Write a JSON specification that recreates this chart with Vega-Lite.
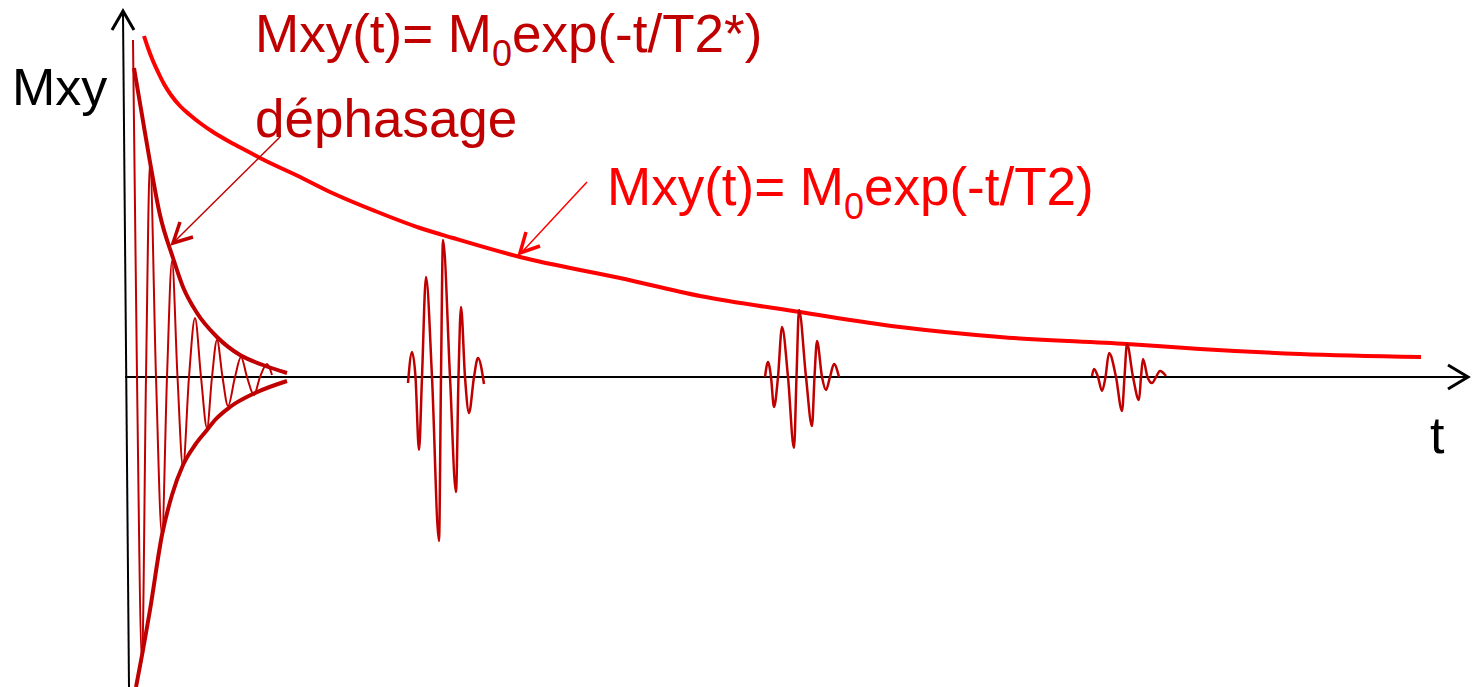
{
  "$schema": "https://vega.github.io/schema/vega-lite/v6.json",
  "width": 1476,
  "height": 687,
  "autosize": {"type": "none"},
  "padding": 0,
  "background": "white",
  "config": {"view": {"stroke": null}},
  "datasets": {
    "curves": [
      {"id": "axisH", "o": 0, "t": -3, "m": 0},
      {"id": "axisH", "o": 1, "t": 1338, "m": 0},
      {"id": "axisV", "o": 0, "t": -5, "m": 363},
      {"id": "axisV", "o": 1, "t": 1, "m": -310},
      {"id": "arrH", "o": 0, "t": 1320, "m": 12},
      {"id": "arrH", "o": 1, "t": 1340, "m": 0},
      {"id": "arrH", "o": 2, "t": 1320, "m": -12},
      {"id": "arrV", "o": 0, "t": -16, "m": 347},
      {"id": "arrV", "o": 1, "t": -5, "m": 366},
      {"id": "arrV", "o": 2, "t": 6, "m": 347},

      {"id": "T2", "o": 0, "t": 16, "m": 341},
      {"id": "T2", "o": 1, "t": 20, "m": 329},
      {"id": "T2", "o": 2, "t": 25, "m": 316},
      {"id": "T2", "o": 3, "t": 30, "m": 305},
      {"id": "T2", "o": 4, "t": 36, "m": 293},
      {"id": "T2", "o": 5, "t": 43, "m": 282},
      {"id": "T2", "o": 6, "t": 52, "m": 271},
      {"id": "T2", "o": 7, "t": 62, "m": 262},
      {"id": "T2", "o": 8, "t": 72, "m": 254},
      {"id": "T2", "o": 9, "t": 85, "m": 245},
      {"id": "T2", "o": 10, "t": 102, "m": 235},
      {"id": "T2", "o": 11, "t": 119, "m": 226},
      {"id": "T2", "o": 12, "t": 136, "m": 217},
      {"id": "T2", "o": 13, "t": 169, "m": 201.5},
      {"id": "T2", "o": 14, "t": 202, "m": 185},
      {"id": "T2", "o": 15, "t": 247, "m": 166},
      {"id": "T2", "o": 16, "t": 292, "m": 149},
      {"id": "T2", "o": 17, "t": 325, "m": 139},
      {"id": "T2", "o": 18, "t": 392, "m": 120},
      {"id": "T2", "o": 19, "t": 492, "m": 99},
      {"id": "T2", "o": 20, "t": 572, "m": 81},
      {"id": "T2", "o": 21, "t": 672, "m": 65},
      {"id": "T2", "o": 22, "t": 772, "m": 50},
      {"id": "T2", "o": 23, "t": 872, "m": 40},
      {"id": "T2", "o": 24, "t": 999, "m": 33},
      {"id": "T2", "o": 25, "t": 1072, "m": 28},
      {"id": "T2", "o": 26, "t": 1172, "m": 23},
      {"id": "T2", "o": 27, "t": 1293, "m": 20},

      {"id": "envU", "o": 0, "t": 6, "m": 309},
      {"id": "envU", "o": 1, "t": 14, "m": 262},
      {"id": "envU", "o": 2, "t": 22, "m": 215},
      {"id": "envU", "o": 3, "t": 32, "m": 162},
      {"id": "envU", "o": 4, "t": 45, "m": 119},
      {"id": "envU", "o": 5, "t": 55, "m": 90},
      {"id": "envU", "o": 6, "t": 69, "m": 64},
      {"id": "envU", "o": 7, "t": 89, "m": 40},
      {"id": "envU", "o": 8, "t": 112, "m": 22},
      {"id": "envU", "o": 9, "t": 135, "m": 12},
      {"id": "envU", "o": 10, "t": 159, "m": 4},

      {"id": "envL", "o": 0, "t": 8, "m": -310},
      {"id": "envL", "o": 1, "t": 15, "m": -273},
      {"id": "envL", "o": 2, "t": 22, "m": -233},
      {"id": "envL", "o": 3, "t": 34, "m": -158},
      {"id": "envL", "o": 4, "t": 44, "m": -118},
      {"id": "envL", "o": 5, "t": 55, "m": -88},
      {"id": "envL", "o": 6, "t": 67, "m": -68},
      {"id": "envL", "o": 7, "t": 79, "m": -53},
      {"id": "envL", "o": 8, "t": 87, "m": -43},
      {"id": "envL", "o": 9, "t": 102, "m": -30},
      {"id": "envL", "o": 10, "t": 127, "m": -16},
      {"id": "envL", "o": 11, "t": 159, "m": -4},

      {"id": "fid", "o": 0, "t": 5, "m": 337},
      {"id": "fid", "o": 1, "t": 9, "m": 0},
      {"id": "fid", "o": 2, "t": 14, "m": -285},
      {"id": "fid", "o": 3, "t": 18, "m": 0},
      {"id": "fid", "o": 4, "t": 22, "m": 215},
      {"id": "fid", "o": 5, "t": 28, "m": 0},
      {"id": "fid", "o": 6, "t": 34, "m": -158},
      {"id": "fid", "o": 7, "t": 39, "m": 0},
      {"id": "fid", "o": 8, "t": 44, "m": 116},
      {"id": "fid", "o": 9, "t": 49.5, "m": 0},
      {"id": "fid", "o": 10, "t": 55, "m": -90},
      {"id": "fid", "o": 11, "t": 61, "m": 0},
      {"id": "fid", "o": 12, "t": 67, "m": 59},
      {"id": "fid", "o": 13, "t": 73, "m": 0},
      {"id": "fid", "o": 14, "t": 79, "m": -51},
      {"id": "fid", "o": 15, "t": 84, "m": 0},
      {"id": "fid", "o": 16, "t": 89, "m": 37},
      {"id": "fid", "o": 17, "t": 94.5, "m": 0},
      {"id": "fid", "o": 18, "t": 100, "m": -29},
      {"id": "fid", "o": 19, "t": 107, "m": 0},
      {"id": "fid", "o": 20, "t": 113, "m": 20},
      {"id": "fid", "o": 21, "t": 119, "m": 0},
      {"id": "fid", "o": 22, "t": 126, "m": -18},
      {"id": "fid", "o": 23, "t": 132, "m": 0},
      {"id": "fid", "o": 24, "t": 139, "m": 13},
      {"id": "fid", "o": 25, "t": 144, "m": 2},

      {"id": "e1", "o": 0, "t": 280, "m": -6},
      {"id": "e1", "o": 1, "t": 284, "m": 25},
      {"id": "e1", "o": 2, "t": 287.5, "m": 0},
      {"id": "e1", "o": 3, "t": 291, "m": -73},
      {"id": "e1", "o": 4, "t": 294, "m": 0},
      {"id": "e1", "o": 5, "t": 298, "m": 100},
      {"id": "e1", "o": 6, "t": 304, "m": 0},
      {"id": "e1", "o": 7, "t": 311, "m": -164},
      {"id": "e1", "o": 8, "t": 313, "m": 0},
      {"id": "e1", "o": 9, "t": 315, "m": 137},
      {"id": "e1", "o": 10, "t": 322, "m": 0},
      {"id": "e1", "o": 11, "t": 328, "m": -115},
      {"id": "e1", "o": 12, "t": 330.5, "m": 0},
      {"id": "e1", "o": 13, "t": 333, "m": 70},
      {"id": "e1", "o": 14, "t": 337, "m": 0},
      {"id": "e1", "o": 15, "t": 341, "m": -36},
      {"id": "e1", "o": 16, "t": 346, "m": 0},
      {"id": "e1", "o": 17, "t": 350, "m": 19},
      {"id": "e1", "o": 18, "t": 356, "m": -7},

      {"id": "e2", "o": 0, "t": 637, "m": 0},
      {"id": "e2", "o": 1, "t": 640, "m": 15},
      {"id": "e2", "o": 2, "t": 643, "m": 0},
      {"id": "e2", "o": 3, "t": 646, "m": -30},
      {"id": "e2", "o": 4, "t": 650, "m": 0},
      {"id": "e2", "o": 5, "t": 654, "m": 50},
      {"id": "e2", "o": 6, "t": 660, "m": 0},
      {"id": "e2", "o": 7, "t": 666, "m": -71},
      {"id": "e2", "o": 8, "t": 668.5, "m": 0},
      {"id": "e2", "o": 9, "t": 671, "m": 67},
      {"id": "e2", "o": 10, "t": 678, "m": 0},
      {"id": "e2", "o": 11, "t": 684, "m": -49},
      {"id": "e2", "o": 12, "t": 686.5, "m": 0},
      {"id": "e2", "o": 13, "t": 689, "m": 36},
      {"id": "e2", "o": 14, "t": 694, "m": 0},
      {"id": "e2", "o": 15, "t": 698, "m": -13},
      {"id": "e2", "o": 16, "t": 702, "m": 0},
      {"id": "e2", "o": 17, "t": 706, "m": 13},
      {"id": "e2", "o": 18, "t": 711, "m": 0},

      {"id": "e3", "o": 0, "t": 964, "m": 1},
      {"id": "e3", "o": 1, "t": 966, "m": 8},
      {"id": "e3", "o": 2, "t": 970, "m": 0},
      {"id": "e3", "o": 3, "t": 974, "m": -14},
      {"id": "e3", "o": 4, "t": 977.5, "m": 0},
      {"id": "e3", "o": 5, "t": 981, "m": 24},
      {"id": "e3", "o": 6, "t": 988, "m": 0},
      {"id": "e3", "o": 7, "t": 994, "m": -34},
      {"id": "e3", "o": 8, "t": 996.5, "m": 0},
      {"id": "e3", "o": 9, "t": 999, "m": 33},
      {"id": "e3", "o": 10, "t": 1005, "m": 0},
      {"id": "e3", "o": 11, "t": 1011, "m": -23},
      {"id": "e3", "o": 12, "t": 1013, "m": 0},
      {"id": "e3", "o": 13, "t": 1015, "m": 18},
      {"id": "e3", "o": 14, "t": 1019.5, "m": 0},
      {"id": "e3", "o": 15, "t": 1024, "m": -6},
      {"id": "e3", "o": 16, "t": 1028, "m": 0},
      {"id": "e3", "o": 17, "t": 1032, "m": 6},
      {"id": "e3", "o": 18, "t": 1038, "m": 1},

      {"id": "a1L", "o": 0, "t": 152, "m": 240},
      {"id": "a1L", "o": 1, "t": 47, "m": 136},
      {"id": "a1H", "o": 0, "t": 52, "m": 155},
      {"id": "a1H", "o": 1, "t": 45, "m": 134},
      {"id": "a1H", "o": 2, "t": 65, "m": 140},
      {"id": "a2L", "o": 0, "t": 459, "m": 195},
      {"id": "a2L", "o": 1, "t": 394, "m": 125},
      {"id": "a2H", "o": 0, "t": 398, "m": 145},
      {"id": "a2H", "o": 1, "t": 392, "m": 124},
      {"id": "a2H", "o": 2, "t": 412, "m": 131}
    ],
    "labels": [
      {"kind": "axis", "t": -116, "m": 272, "s": "Mxy"},
      {"kind": "axis", "t": 1302, "m": -76, "s": "t"},
      {"kind": "t2star", "t": 127, "m": 325, "s": "Mxy(t)= M"},
      {"kind": "t2star", "t": 384, "m": 325, "s": "exp(-t/T2*)"},
      {"kind": "t2star", "t": 127, "m": 240, "s": "déphasage"},
      {"kind": "t2star-sub", "t": 364, "m": 311, "s": "0"},
      {"kind": "t2", "t": 479, "m": 172, "s": "Mxy(t)= M"},
      {"kind": "t2", "t": 736, "m": 172, "s": "exp(-t/T2)"},
      {"kind": "t2-sub", "t": 716, "m": 158, "s": "0"}
    ]
  },
  "encoding": {
    "x": {"field": "t", "type": "quantitative", "scale": {"domain": [-128, 1348], "nice": false, "zero": false}, "axis": null},
    "y": {"field": "m", "type": "quantitative", "scale": {"domain": [-310, 377], "nice": false, "zero": false}, "axis": null}
  },
  "layer": [
    {
      "data": {"name": "curves"},
      "transform": [{"filter": "datum.id === 'axisH' || datum.id === 'axisV'"}],
      "mark": {"type": "line", "color": "black", "strokeWidth": 2},
      "encoding": {"detail": {"field": "id"}, "order": {"field": "o"}}
    },
    {
      "data": {"name": "curves"},
      "transform": [{"filter": "datum.id === 'arrH' || datum.id === 'arrV'"}],
      "mark": {"type": "line", "color": "black", "strokeWidth": 3},
      "encoding": {"detail": {"field": "id"}, "order": {"field": "o"}}
    },
    {
      "data": {"name": "curves"},
      "transform": [{"filter": "datum.id === 'T2'"}],
      "mark": {"type": "line", "color": "#ff0000", "strokeWidth": 4, "interpolate": "monotone"},
      "encoding": {"order": {"field": "o"}}
    },
    {
      "data": {"name": "curves"},
      "transform": [{"filter": "datum.id === 'fid'"}],
      "mark": {"type": "line", "color": "#c00000", "strokeWidth": 2, "interpolate": "monotone"},
      "encoding": {"order": {"field": "o"}}
    },
    {
      "data": {"name": "curves"},
      "transform": [{"filter": "datum.id === 'e1' || datum.id === 'e2' || datum.id === 'e3'"}],
      "mark": {"type": "line", "color": "#c00000", "strokeWidth": 2.5, "interpolate": "monotone"},
      "encoding": {"detail": {"field": "id"}, "order": {"field": "o"}}
    },
    {
      "data": {"name": "curves"},
      "transform": [{"filter": "datum.id === 'envU' || datum.id === 'envL'"}],
      "mark": {"type": "line", "color": "#c00000", "strokeWidth": 4, "interpolate": "monotone"},
      "encoding": {"detail": {"field": "id"}, "order": {"field": "o"}}
    },
    {
      "data": {"name": "curves"},
      "transform": [{"filter": "datum.id === 'a1L'"}],
      "mark": {"type": "line", "color": "#c00000", "strokeWidth": 1.5},
      "encoding": {"order": {"field": "o"}}
    },
    {
      "data": {"name": "curves"},
      "transform": [{"filter": "datum.id === 'a1H'"}],
      "mark": {"type": "line", "color": "#c00000", "strokeWidth": 3.5},
      "encoding": {"order": {"field": "o"}}
    },
    {
      "data": {"name": "curves"},
      "transform": [{"filter": "datum.id === 'a2L'"}],
      "mark": {"type": "line", "color": "#ff0000", "strokeWidth": 1.5},
      "encoding": {"order": {"field": "o"}}
    },
    {
      "data": {"name": "curves"},
      "transform": [{"filter": "datum.id === 'a2H'"}],
      "mark": {"type": "line", "color": "#ff0000", "strokeWidth": 3.5},
      "encoding": {"order": {"field": "o"}}
    },
    {
      "data": {"name": "labels"},
      "transform": [{"filter": "datum.kind === 'axis'"}],
      "mark": {"type": "text", "align": "left", "baseline": "alphabetic", "font": "Liberation Sans", "fontSize": 52, "color": "black"},
      "encoding": {"text": {"field": "s"}}
    },
    {
      "data": {"name": "labels"},
      "transform": [{"filter": "datum.kind === 't2star'"}],
      "mark": {"type": "text", "align": "left", "baseline": "alphabetic", "font": "Liberation Sans", "fontSize": 53, "color": "#c00000"},
      "encoding": {"text": {"field": "s"}}
    },
    {
      "data": {"name": "labels"},
      "transform": [{"filter": "datum.kind === 't2star-sub'"}],
      "mark": {"type": "text", "align": "left", "baseline": "alphabetic", "font": "Liberation Sans", "fontSize": 36, "color": "#c00000"},
      "encoding": {"text": {"field": "s"}}
    },
    {
      "data": {"name": "labels"},
      "transform": [{"filter": "datum.kind === 't2'"}],
      "mark": {"type": "text", "align": "left", "baseline": "alphabetic", "font": "Liberation Sans", "fontSize": 53, "color": "#ff0000"},
      "encoding": {"text": {"field": "s"}}
    },
    {
      "data": {"name": "labels"},
      "transform": [{"filter": "datum.kind === 't2-sub'"}],
      "mark": {"type": "text", "align": "left", "baseline": "alphabetic", "font": "Liberation Sans", "fontSize": 36, "color": "#ff0000"},
      "encoding": {"text": {"field": "s"}}
    }
  ]
}
